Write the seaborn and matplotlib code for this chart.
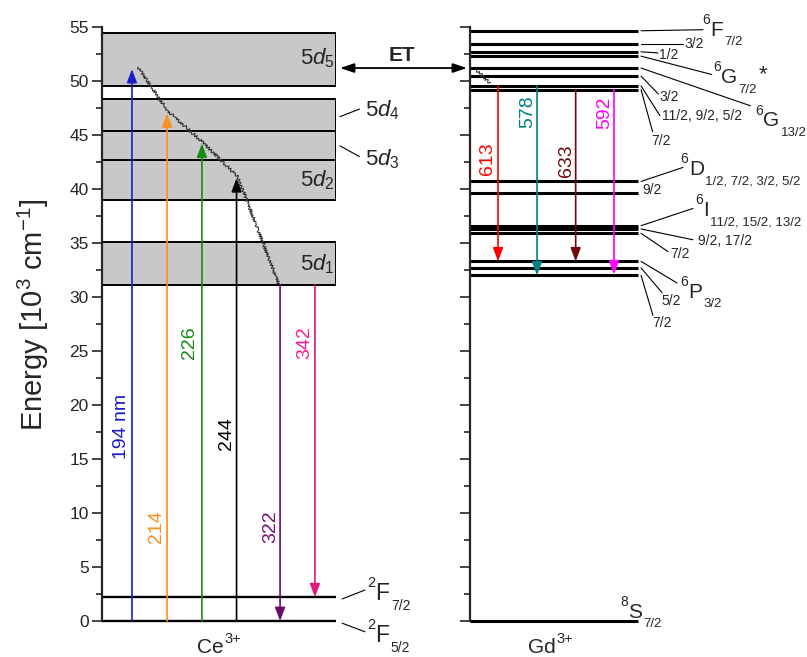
import numpy as np
import pandas as pd
import matplotlib
matplotlib.use("Agg")
import matplotlib.pyplot as plt
from matplotlib.ticker import MultipleLocator
from matplotlib.transforms import offset_copy
import seaborn as sns

# ---- data (energies in 10^3 cm^-1) ----
# Ce3+ 4f ground multiplet
ce_ground = [0.0, 2.2]
ce_ground_names = [("2", "F", "5/2"), ("2", "F", "7/2")]
# Ce3+ 5d bands
ce_5d_low = [31.1, 39.0, 42.7, 45.4, 49.5]
ce_5d_high = [35.1, 42.7, 45.4, 48.3, 54.4]
ce_5d_names = [r"$5d_1$", r"$5d_2$", r"$5d_3$", r"$5d_4$", r"$5d_5$"]
# Ce3+ excitation (up) and emission (down)
ce_exc_nm = ["194 nm", "214", "226", "244"]
ce_exc_top = [51.1, 47.0, 44.2, 41.0]
ce_em_nm = ["322", "342"]
ce_em_from = [31.1, 31.1]
ce_em_to = [0.0, 2.2]
# non-radiative relaxation path through the 5d bands
relax_ce = [51.3, 47.2, 44.3, 41.1, 31.1]
relax_gd = [51.0, 49.8]
et_level = 51.2

# Gd3+ levels
gd_levels = [54.65, 53.45, 52.7, 52.3, 51.2, 50.45, 49.55, 49.2,
             40.7, 39.6, 36.6, 36.3, 35.9, 33.3, 32.7, 32.0, 0.0]
gd_em_nm = ["613", "578", "633", "592"]
gd_em_from = [49.55, 49.55, 49.2, 49.2]
gd_em_to = [33.3, 32.0, 33.3, 32.1]

# term labels: (multiplicity, letter, J) for big ones, plain string for J-only ones
gd_terms = [("6", "F", "7/2"), "3/2", "1/2", ("6", "G", "7/2"),
            ("6", "G", "13/2"), "3/2", "11/2, 9/2, 5/2", "7/2",
            ("6", "D", "1/2, 7/2, 3/2, 5/2"), "9/2",
            ("6", "I", "11/2, 15/2, 13/2"), "9/2, 17/2", "7/2",
            ("6", "P", "3/2"), "5/2", "7/2", ("8", "S", "7/2")]
gd_term_level = [54.65, 53.45, 52.7, 52.3, 51.2, 50.45, 49.55, 49.2,
                 40.7, 39.6, 36.6, 36.3, 35.9, 33.3, 32.7, 32.0, 0.0]

# ---- layout ----
ce_exc_x = [1.28, 2.78, 4.27, 5.75]
ce_exc_col = ["#1c1cc8", "#f7901e", "#158a15", "black"]
ce_exc_lab = [(0.85, 18.0), (2.35, 8.7), (3.76, 25.8), (5.3, 17.4)]
ce_em_x = [7.61, 9.10]
ce_em_col = ["#6a0a6a", "#e0197a"]
ce_em_txtcol = ["#7a0a7a", "#ff1a8c"]
ce_em_lab = [(7.2, 8.7), (8.65, 25.8)]
relax_ce_x = [1.54, 2.82, 4.32, 5.81, 7.57]
relax_gd_x = [0.40, 1.19]

gd_em_x = [1.67, 3.99, 6.29, 8.57]
gd_em_col = ["#ff0000", "#008080", "#6b0b0b", "#ff00ff"]
gd_em_lab = [(1.07, 42.8), (3.45, 47.2), (5.77, 42.6), (8.04, 47.1)]

# (leader end x, leader end y, text x, text y)
gd_term_pos = [(13.87, 54.75, 13.81, 54.2), (12.68, 53.45, 12.74, 53.4),
               (11.19, 52.6, 11.25, 52.45), (14.39, 50.6, 14.46, 49.8),
               (16.7, 47.7, 16.96, 45.8), (11.21, 48.8, 11.25, 48.5),
               (11.3, 46.8, 11.4, 46.8), (10.87, 45.3, 10.8, 44.4),
               (12.68, 42.0, 12.54, 41.3), (None, None, 10.25, 39.9),
               (13.27, 38.2, 13.4, 37.5), (13.27, 35.3, 13.57, 35.2),
               (11.79, 34.2, 11.9, 34.0), (12.32, 31.3, 12.5, 29.9),
               (11.43, 30.4, 11.37, 29.6), (10.89, 28.3, 10.83, 27.6),
               (None, None, 8.93, 0.28)]

sns.set_style("ticks")
plt.rcParams["font.family"] = ["Liberation Sans", "DejaVu Sans"]
plt.rcParams["mathtext.fontset"] = "custom"
plt.rcParams["mathtext.rm"] = "Liberation Sans"
plt.rcParams["mathtext.it"] = "Liberation Sans:italic"
plt.rcParams["mathtext.bf"] = "Liberation Sans:bold"
plt.rcParams["mathtext.sf"] = "Liberation Sans"

W, H = 807, 657
fig = plt.figure(figsize=(W / 100, H / 100), dpi=100)
axL = fig.add_axes([102 / W, 36 / H, 234 / W, 594 / H])
axR = fig.add_axes([470 / W, 36 / H, 168 / W, 594 / H])
renderer = fig.canvas.get_renderer()


def pieces(ax, x, y, parts):
    # write text pieces one after another: (text, size, raise in points, gap before)
    dx = 0
    for txt, size, dy, gap in parts:
        dx += gap
        t = ax.text(x, y, txt, fontsize=size, ha="left", va="baseline", clip_on=False,
                    transform=offset_copy(ax.transData, fig=fig, x=dx, y=dy, units="points"))
        dx += t.get_window_extent(renderer).width * 72 / fig.dpi
    return dx


def term(ax, x, y, sup, letter, sub, size=15, ssize=9.5):
    return pieces(ax, x, y, [(sup, ssize + 0.5, size * 0.56, 0), (letter, size, 0, 0.3),
                             (sub, ssize, -size * 0.45, 1.0)])


for ax in (axL, axR):
    ax.set_xlim(0, 10)
    ax.set_ylim(0, 55)
    ax.set_facecolor("none")
    for s in ("top", "right", "bottom"):
        ax.spines[s].set_visible(False)
    ax.spines["left"].set_linewidth(1.6)
    ax.set_xticks([])
    ax.yaxis.set_major_locator(MultipleLocator(5))
    ax.yaxis.set_minor_locator(MultipleLocator(2.5))
    ax.tick_params(axis="y", which="major", length=7.5, width=1.2, direction="out",
                   labelsize=12.5, pad=2)
    ax.tick_params(axis="y", which="minor", length=4, width=1.2, direction="out")
axR.tick_params(axis="y", labelleft=False)

axL.set_ylabel(r"Energy [10$^{3}$ cm$^{-1}$]", fontsize=21, va="center")
axL.yaxis.set_label_coords(-0.295, 0.515)

# ---- Ce3+ ----
axL.bar(x=5, height=np.subtract(ce_5d_high, ce_5d_low), bottom=ce_5d_low, width=10,
        color="#c8c8c8", edgecolor="black", linewidth=1.4, zorder=1)
axL.hlines(ce_ground, 0, 10, color="black", lw=1.7, clip_on=False, zorder=2)

arrow_kw = dict(arrowstyle="-|>,head_length=0.45,head_width=0.17", mutation_scale=18,
                lw=1.2, shrinkA=0, shrinkB=0)
for x, top, c, lab, (tx, ty) in zip(ce_exc_x, ce_exc_top, ce_exc_col, ce_exc_nm, ce_exc_lab):
    axL.annotate("", xy=(x, top), xytext=(x, 0), arrowprops=dict(color=c, **arrow_kw),
                 annotation_clip=False, zorder=4)
    axL.text(tx, ty, lab, color=c, rotation=90, fontsize=14, ha="center", va="center")
for x, y0, y1, c, tc, lab, (tx, ty) in zip(ce_em_x, ce_em_from, ce_em_to, ce_em_col,
                                           ce_em_txtcol, ce_em_nm, ce_em_lab):
    axL.annotate("", xy=(x, y1), xytext=(x, y0), arrowprops=dict(color=c, **arrow_kw),
                 annotation_clip=False, zorder=4)
    axL.text(tx, ty, lab, color=tc, rotation=90, fontsize=14, ha="center", va="center")

relax = pd.DataFrame({"x": relax_ce_x, "E": relax_ce})
sns.lineplot(data=relax, x="x", y="E", sort=False, ax=axL, color="#333333", lw=0.8, zorder=3)
axL.lines[-1].set_sketch_params(scale=1.5, length=3, randomness=2)
axL.set_xlabel("")

# 5d labels: inside boxes for 5d1, 5d2, 5d5; outside with leaders for 5d3, 5d4
for i, yb in [(0, 32.5), (1, 40.2), (4, 51.5)]:
    axL.text(9.95, yb, ce_5d_names[i], fontsize=16, ha="right", va="baseline")
for i, yb, (y0, y1) in [(3, 46.7, (46.7, 47.4)), (2, 42.2, (44.0, 43.0))]:
    axL.plot([10.17, 11.0], [y0, y1], color="black", lw=0.8, clip_on=False)
    axL.text(11.24, yb, ce_5d_names[i], fontsize=16, ha="left", va="baseline")

# ground multiplet labels
for lev, (m, l, j), (y0, y1), yb in zip(ce_ground, ce_ground_names,
                                        [(-0.2, -1.0), (2.04, 2.87)], [-1.94, 1.94]):
    axL.plot([10.26, 11.24], [y0, y1], color="black", lw=0.8, clip_on=False)
    term(axL, 11.32, yb, m, l, j, size=16.5, ssize=10)

pieces(axL, 4.06, -3.0, [("Ce", 15, 0, 0), ("3+", 10.5, 7.5, 0.3)])

# ---- Gd3+ ----
axR.hlines(gd_levels, 0, 10, color="black", lw=2.2, clip_on=False, zorder=2)
for x, y0, y1, c, lab, (tx, ty) in zip(gd_em_x, gd_em_from, gd_em_to, gd_em_col,
                                       gd_em_nm, gd_em_lab):
    axR.annotate("", xy=(x, y1), xytext=(x, y0), arrowprops=dict(color=c, **arrow_kw),
                 annotation_clip=False, zorder=4)
    axR.text(tx, ty, lab, color=c, rotation=90, fontsize=14, ha="center", va="center")

relax2 = pd.DataFrame({"x": relax_gd_x, "E": relax_gd})
sns.lineplot(data=relax2, x="x", y="E", sort=False, ax=axR, color="#333333", lw=0.8, zorder=3)
axR.lines[-1].set_sketch_params(scale=1.5, length=3, randomness=2)
axR.set_xlabel("")
axR.set_ylabel("")

for name, lev, (lx, ly, tx, ty) in zip(gd_terms, gd_term_level, gd_term_pos):
    if lx is not None:
        axR.plot([10.18, lx], [lev, ly], color="black", lw=0.8, clip_on=False)
    if isinstance(name, tuple):
        end = term(axR, tx, ty, *name)
        if name[2] == "7/2" and name[1] == "G":
            axR.text(tx, ty, "*", fontsize=16, ha="left", va="baseline", clip_on=False,
                     transform=offset_copy(axR.transData, fig=fig, x=end + 1, y=2,
                                           units="points"))
    else:
        axR.text(tx, ty, name, fontsize=10, ha="left", va="center")

pieces(axR, 3.45, -3.0, [("Gd", 15, 0, 0), ("3+", 10.5, 7.5, 0.3)])

# ---- energy transfer ----
axL.annotate("", xy=(-0.18, et_level), xycoords=axR.transData,
             xytext=(10.17, et_level), textcoords=axL.transData,
             arrowprops=dict(arrowstyle="<|-|>,head_length=0.6,head_width=0.2",
                             mutation_scale=14, lw=1.3, color="black",
                             shrinkA=0, shrinkB=0),
             annotation_clip=False)
axL.text(12.8, 52.4, "ET", fontsize=15, fontweight="bold", ha="center", va="center")

fig.savefig("out.png", dpi=100)
